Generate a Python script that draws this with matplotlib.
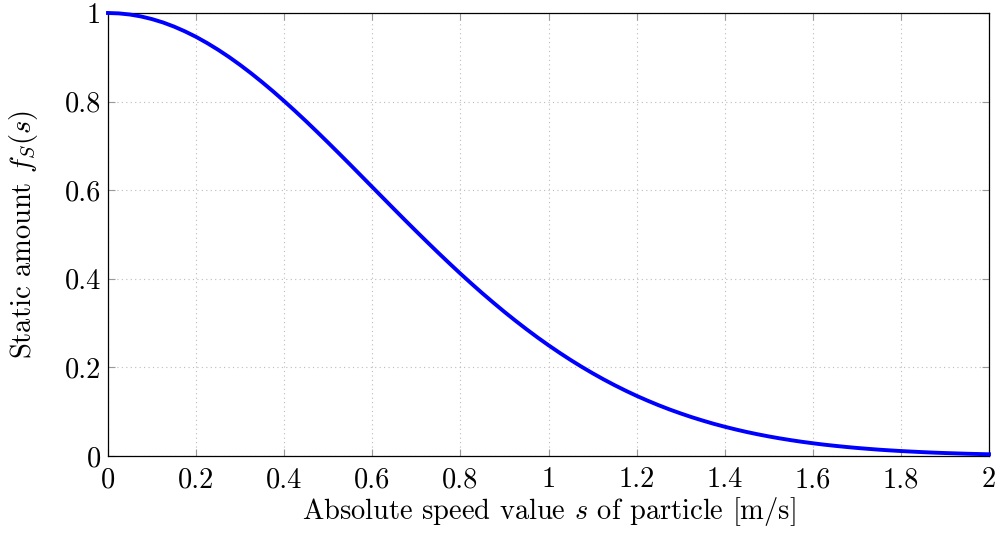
import matplotlib
matplotlib.use("Agg")
import matplotlib.pyplot as plt

# Values (speed s in m/s -> static amount)
speed = [0.000, 0.025, 0.050, 0.075, 0.100, 0.125, 0.150, 0.175, 0.200, 0.225,
         0.250, 0.275, 0.300, 0.325, 0.350, 0.375, 0.400, 0.425, 0.450, 0.475,
         0.500, 0.525, 0.550, 0.575, 0.600, 0.625, 0.650, 0.675, 0.700, 0.725,
         0.750, 0.775, 0.800, 0.825, 0.850, 0.875, 0.900, 0.925, 0.950, 0.975,
         1.000, 1.025, 1.050, 1.075, 1.100, 1.125, 1.150, 1.175, 1.200, 1.225,
         1.250, 1.275, 1.300, 1.325, 1.350, 1.375, 1.400, 1.425, 1.450, 1.475,
         1.500, 1.525, 1.550, 1.575, 1.600, 1.625, 1.650, 1.675, 1.700, 1.725,
         1.750, 1.775, 1.800, 1.825, 1.850, 1.875, 1.900, 1.925, 1.950, 1.975,
         2.000]
static_amount = [1.0000, 0.9991, 0.9965, 0.9922, 0.9862, 0.9786, 0.9693, 0.9584, 0.9461, 0.9322,
                 0.9170, 0.9005, 0.8827, 0.8638, 0.8438, 0.8229, 0.8011, 0.7785, 0.7553, 0.7314,
                 0.7071, 0.6824, 0.6575, 0.6323, 0.6071, 0.5819, 0.5567, 0.5317, 0.5070, 0.4826,
                 0.4585, 0.4349, 0.4117, 0.3892, 0.3672, 0.3460, 0.3253, 0.3054, 0.2862, 0.2677,
                 0.2500, 0.2331, 0.2169, 0.2015, 0.1869, 0.1730, 0.1599, 0.1475, 0.1358, 0.1249,
                 0.1146, 0.1050, 0.0961, 0.0877, 0.0800, 0.0727, 0.0661, 0.0599, 0.0542, 0.0490,
                 0.0442, 0.0398, 0.0358, 0.0321, 0.0288, 0.0257, 0.0230, 0.0205, 0.0182, 0.0162,
                 0.0143, 0.0127, 0.0112, 0.0099, 0.0087, 0.0076, 0.0067, 0.0059, 0.0051, 0.0045,
                 0.0039]

x_ticks = [0, 0.2, 0.4, 0.6, 0.8, 1.0, 1.2, 1.4, 1.6, 1.8, 2.0]
x_labels = ["0", "0.2", "0.4", "0.6", "0.8", "1", "1.2", "1.4", "1.6", "1.8", "2"]
y_ticks = [0, 0.2, 0.4, 0.6, 0.8, 1.0]
y_labels = ["0", "0.2", "0.4", "0.6", "0.8", "1"]

plt.rcParams["font.family"] = "serif"
plt.rcParams["font.serif"] = ["cmr10", "DejaVu Serif"]
plt.rcParams["mathtext.fontset"] = "cm"
plt.rcParams["axes.unicode_minus"] = False

fs = 20.5
fig = plt.figure(figsize=(10.05, 5.41), dpi=100)
ax = fig.add_axes([108 / 1005, 1 - 456 / 541, (989 - 108) / 1005, (456 - 13) / 541])

ax.plot(speed, static_amount, color="#0000ff", linewidth=2.8,
        solid_joinstyle="round", zorder=3, clip_on=False)

ax.set_xlim(0, 2)
ax.set_ylim(0, 1)
ax.set_xticks(x_ticks)
ax.set_xticklabels(x_labels)
ax.set_yticks(y_ticks)
ax.set_yticklabels(y_labels)
ax.tick_params(direction="in", length=5, width=0.8, color="#999999",
               top=True, right=True, labelsize=fs, pad=5)
ax.tick_params(axis="x", pad=8)

ax.grid(True, linestyle=(0, (1, 3)), color="#bbbbbb", linewidth=0.8)
for spine in ax.spines.values():
    spine.set_linewidth(0.9)
    spine.set_color("black")

ax.set_xlabel(r"Absolute speed value $s$ of particle [m/s]", fontsize=fs, labelpad=1)
ax.set_ylabel(r"Static amount $f_S(s)$", fontsize=fs, labelpad=18)

fig.savefig("out.png", dpi=100)
